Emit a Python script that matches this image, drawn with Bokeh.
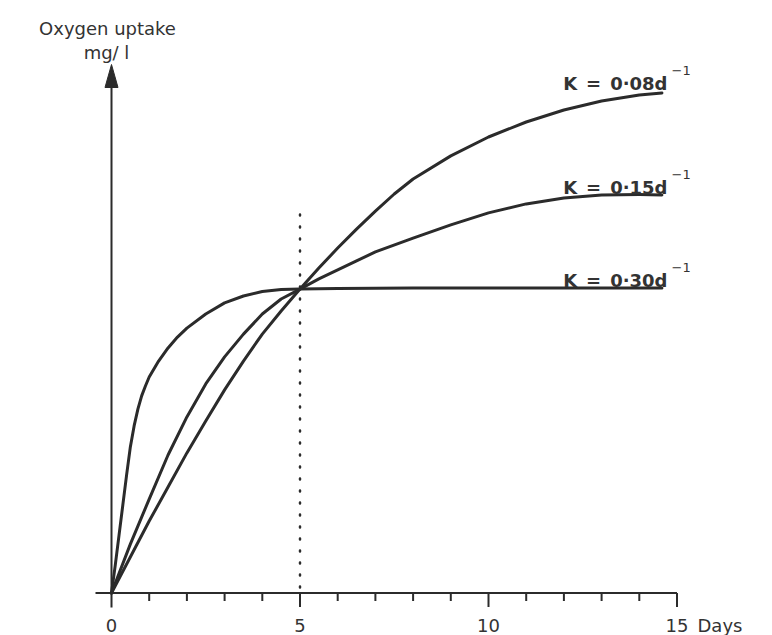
from bokeh.plotting import figure
from bokeh.models import Range1d
from bokeh.embed import file_html
from bokeh.resources import INLINE
from bokeh.core.properties import value

# ---------------- data ----------------
# Oxygen uptake (mg/l, arbitrary scale) against time (days)
days_k030 = [0, 0.1, 0.2, 0.3, 0.4, 0.5, 0.6, 0.7, 0.8, 0.9, 1.0, 1.25, 1.5,
             1.75, 2, 2.5, 3, 3.5, 4, 4.5, 5, 6, 8, 10, 12, 14.6]
uptake_k030 = [0, 0.93, 1.93, 2.93, 3.93, 4.87, 5.57, 6.13, 6.57, 6.90, 7.20,
               7.73, 8.17, 8.53, 8.83, 9.30, 9.67, 9.90, 10.05, 10.12, 10.13,
               10.15, 10.17, 10.17, 10.17, 10.17]

days_k015 = [0, 0.5, 1, 1.5, 2, 2.5, 3, 3.5, 4, 4.5, 5, 5.5, 6, 6.5, 7, 8, 9,
             10, 11, 12, 13, 14, 14.6]
uptake_k015 = [0, 1.63, 3.13, 4.60, 5.87, 6.97, 7.87, 8.63, 9.30, 9.80, 10.13,
               10.47, 10.77, 11.07, 11.37, 11.83, 12.27, 12.67, 12.97, 13.17,
               13.27, 13.28, 13.27]

days_k008 = [0, 0.5, 1, 1.5, 2, 2.5, 3, 3.5, 4, 4.5, 5, 5.5, 6, 6.5, 7, 7.5, 8,
             9, 10, 11, 12, 13, 14, 14.6]
uptake_k008 = [0, 1.20, 2.40, 3.53, 4.67, 5.73, 6.77, 7.73, 8.63, 9.40, 10.13,
               10.83, 11.50, 12.13, 12.73, 13.30, 13.80, 14.57, 15.20, 15.70,
               16.10, 16.40, 16.60, 16.67]

intersect_day = 5

tick_major = [0, 5, 10, 15]
tick_major_labels = ["0", "5", "10", "15"]
tick_minor = [1, 2, 3, 4, 6, 7, 8, 9, 11, 12, 13, 14]

curve_labels = ["K\u2002=\u20020\u00b708d", "K\u2002=\u20020\u00b715d", "K\u2002=\u20020\u00b730d"]
curve_label_exp = ["\u22121", "\u22121", "\u22121"]

# ---------------- layout helpers (canvas pixel -> data) ----------------
X0, XS = 111.0, 37.7     # canvas x of day 0, pixels per day
Y0, YS = 592.5, 30.0     # canvas y of zero uptake, pixels per unit


def dx(px):
    return (px - X0) / XS


def dy(py):
    return (Y0 - py) / YS


W, H = 772, 635
INK = "#2b2b2b"
TXT = "#333333"

p = figure(width=W, height=H,
           x_range=Range1d(dx(0), dx(W)),
           y_range=Range1d(dy(H), dy(0)),
           output_backend="svg", toolbar_location=None,
           x_axis_location=None, y_axis_location=None,
           min_border=0, min_border_left=0, min_border_right=0,
           min_border_top=0, min_border_bottom=0)
p.grid.visible = False
p.outline_line_color = None
p.background_fill_color = "white"
p.border_fill_color = "white"

# axes drawn by hand
p.segment(x0=[dx(95)], y0=[0], x1=[tick_major[-1]], y1=[0],
          line_color=INK, line_width=2)
p.segment(x0=[0], y0=[dy(607)], x1=[0], y1=[dy(84)],
          line_color=INK, line_width=2)
hw = 6.5 / XS
p.patch([-hw, 0, hw], [dy(87), dy(64), dy(87)], fill_color=INK, line_color=INK,
        line_width=1)

p.segment(x0=tick_major[1:], y0=[0] * 3, x1=tick_major[1:],
          y1=[-14 / YS] * 3, line_color=INK, line_width=2)
p.segment(x0=tick_minor, y0=[0] * len(tick_minor), x1=tick_minor,
          y1=[-8 / YS] * len(tick_minor), line_color=INK, line_width=2)

# dotted marker at the intersection day
p.segment(x0=[intersect_day], y0=[dy(587)], x1=[intersect_day], y1=[dy(205)],
          line_color=INK, line_width=2.5, line_dash="1 11", line_cap="round")

# curves
for xs, ys in [(days_k030, uptake_k030), (days_k015, uptake_k015),
               (days_k008, uptake_k008)]:
    p.line(xs, ys, line_color=INK, line_width=3, line_join="round",
           line_cap="round")

# tick labels
p.text(x=tick_major, y=[dy(625)] * 4, text=tick_major_labels,
       text_align="center", text_baseline="alphabetic",
       text_font=value("DejaVu Sans"), text_font_size="18px", text_color=TXT)
p.text(x=[dx(697)], y=[dy(625)], text=["Days"], text_align="left",
       text_baseline="alphabetic", text_font=value("DejaVu Sans"),
       text_font_size="18px", text_color=TXT)

# y title
p.text(x=[dx(107), dx(106)], y=[dy(28), dy(51.5)],
       text=["Oxygen uptake", "mg/ l"], text_align="center",
       text_baseline="alphabetic", text_font=value("DejaVu Sans"),
       text_font_size="18px", text_color=TXT)

# curve labels
base = [dy(83.3), dy(186.7), dy(280)]
p.text(x=[dx(667)] * 3, y=base, text=curve_labels, text_align="right",
       text_baseline="alphabetic", text_font=value("DejaVu Sans"),
       text_font_style="bold", text_font_size="18px", text_color=TXT)
p.text(x=[dx(671)] * 3, y=[b + 13 / YS for b in base], text=curve_label_exp,
       text_align="left", text_baseline="alphabetic",
       text_font=value("DejaVu Sans"), text_font_size="13px", text_color=TXT)

open("out.html", "w").write(file_html(p, INLINE))
